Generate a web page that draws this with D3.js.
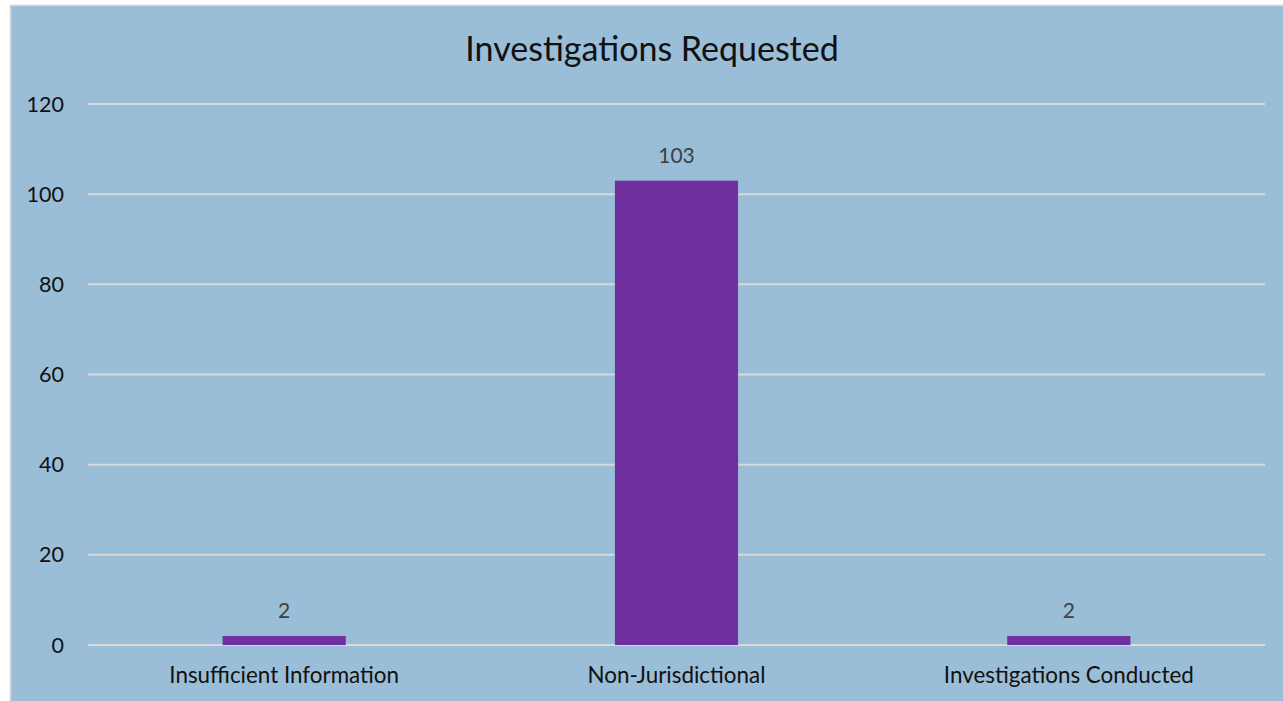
<!DOCTYPE html>
<html><head><meta charset="utf-8">
<script src="https://cdn.jsdelivr.net/npm/d3@7"></script>
<style>html,body{margin:0;padding:0;background:#fff;}svg{display:block;}</style>
</head><body>
<svg id="c" width="1283" height="701"></svg>
<script>
const title = "Investigations Requested";
const categories = ["Insufficient Information", "Non-Jurisdictional", "Investigations Conducted"];
const values = [2, 103, 2];
const yTicks = [0, 20, 40, 60, 80, 100, 120];

const W = 1283, H = 701;
const svg = d3.select("#c");
const font = "Lato, 'Open Sans', sans-serif";

svg.append("rect").attr("x", 10.5).attr("y", 5.5).attr("width", W).attr("height", H)
  .attr("fill", "#9abdd8").attr("stroke", "#d4d4d4").attr("stroke-width", 1.5);

const m = {left: 88, right: 1265, top: 104, bottom: 645};
const x = d3.scaleBand().domain(categories).range([m.left, m.right]).paddingInner(0.686).paddingOuter(0.343);
const y = d3.scaleLinear().domain([0, 120]).range([m.bottom, m.top]);

svg.append("g").selectAll("line").data(yTicks).join("line")
  .attr("x1", m.left).attr("x2", m.right)
  .attr("y1", d => y(d)).attr("y2", d => y(d))
  .attr("stroke", "#d9d9d9").attr("stroke-width", 2);

svg.append("g").selectAll("text").data(yTicks).join("text")
  .attr("x", 64).attr("y", d => y(d)).attr("dy", "0.35em")
  .attr("text-anchor", "end").attr("font-family", font).attr("font-size", 21.5)
  .attr("fill", "#111").text(d => d);

svg.append("g").selectAll("rect").data(values).join("rect")
  .attr("x", (d, i) => x(categories[i])).attr("width", x.bandwidth())
  .attr("y", d => y(d)).attr("height", d => y(0) - y(d))
  .attr("fill", "#7030a0");

svg.append("g").selectAll("text").data(values).join("text")
  .attr("x", (d, i) => x(categories[i]) + x.bandwidth() / 2).attr("y", d => y(d) - 18)
  .attr("text-anchor", "middle").attr("font-family", font).attr("font-size", 21)
  .attr("fill", "#404040").text(d => d);

svg.append("g").selectAll("text").data(categories).join("text")
  .attr("x", d => x(d) + x.bandwidth() / 2).attr("y", 683)
  .attr("text-anchor", "middle").attr("font-family", font).attr("font-size", 22.4)
  .attr("fill", "#111").text(d => d);

svg.append("text").attr("x", 652).attr("y", 61).attr("text-anchor", "middle")
  .attr("font-family", font).attr("font-size", 34).attr("fill", "#111").text(title);
</script>
</body></html>
